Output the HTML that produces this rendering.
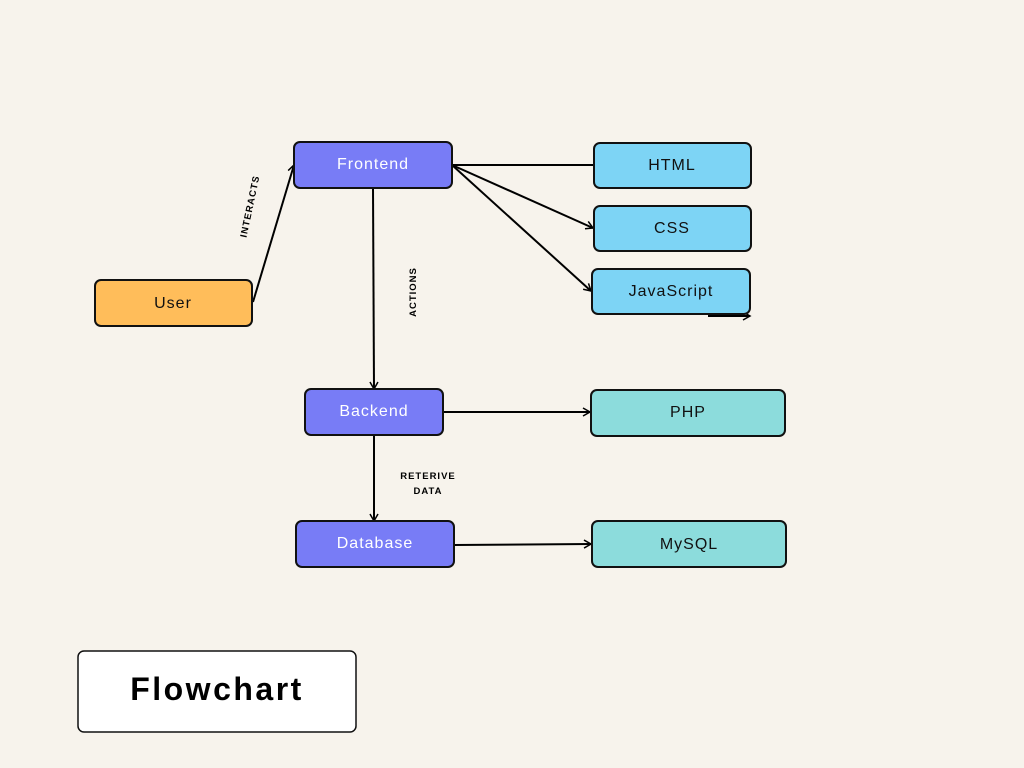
<!DOCTYPE html>
<html><head><meta charset="utf-8"><style>
html,body{margin:0;padding:0;background:#f7f3ec;}
svg{display:block}
text{font-family:"Liberation Sans","DejaVu Sans",sans-serif;}
</style></head><body>
<svg width="1024" height="768" viewBox="0 0 1024 768" xmlns="http://www.w3.org/2000/svg">
<defs>
<marker id="a" markerWidth="10" markerHeight="10" refX="8" refY="5" orient="auto" markerUnits="userSpaceOnUse">
<path d="M1,1 L8,5 L1,9" fill="none" stroke="#000" stroke-width="1.5"/>
</marker>
</defs>
<rect width="1024" height="768" fill="#f7f3ec"/>
<g stroke="#000" stroke-width="2" fill="none">
<line x1="253" y1="302" x2="294" y2="165" marker-end="url(#a)"/>
<line x1="452" y1="165" x2="594" y2="165"/>
<line x1="452" y1="165" x2="593" y2="228" marker-end="url(#a)"/>
<line x1="452" y1="165" x2="591" y2="291" marker-end="url(#a)"/>
<line x1="708" y1="316" x2="750" y2="316" marker-end="url(#a)"/>
<line x1="373" y1="188" x2="374" y2="389" marker-end="url(#a)"/>
<line x1="443" y1="412" x2="590" y2="412" marker-end="url(#a)"/>
<line x1="374" y1="435" x2="374" y2="521" marker-end="url(#a)"/>
<line x1="454" y1="545" x2="591" y2="544" marker-end="url(#a)"/>
</g>
<g stroke="#111" stroke-width="2">
<rect x="294" y="142" width="158" height="46" rx="6" fill="#787cf6"/>
<rect x="594" y="143" width="157" height="45" rx="6" fill="#7dd4f5"/>
<rect x="594" y="206" width="157" height="45" rx="6" fill="#7dd4f5"/>
<rect x="592" y="269" width="158" height="45" rx="6" fill="#7dd4f5"/>
<rect x="95" y="280" width="157" height="46" rx="6" fill="#ffbd5a"/>
<rect x="305" y="389" width="138" height="46" rx="6" fill="#787cf6"/>
<rect x="591" y="390" width="194" height="46" rx="6" fill="#8cdcdc"/>
<rect x="296" y="521" width="158" height="46" rx="6" fill="#787cf6"/>
<rect x="592" y="521" width="194" height="46" rx="6" fill="#8cdcdc"/>
<rect x="78" y="651" width="278" height="81" rx="6" fill="#fff" stroke-width="1.5"/>
</g>
<g font-size="16" text-anchor="middle" letter-spacing="1">
<text x="373" y="169" fill="#fff">Frontend</text>
<text x="672" y="170" fill="#111">HTML</text>
<text x="672" y="233" fill="#111">CSS</text>
<text x="671" y="296" fill="#111">JavaScript</text>
<text x="173" y="308" fill="#111">User</text>
<text x="374" y="416" fill="#fff">Backend</text>
<text x="688" y="417" fill="#111">PHP</text>
<text x="375" y="548" fill="#fff">Database</text>
<text x="689" y="549" fill="#111">MySQL</text>
</g>
<text x="217" y="700" font-size="32" font-weight="bold" text-anchor="middle" letter-spacing="2.5" fill="#000">Flowchart</text>
<g font-size="9.5" font-weight="bold" text-anchor="middle" fill="#000" letter-spacing="1">
<text transform="translate(253,207) rotate(-78)">INTERACTS</text>
<text transform="translate(416,292) rotate(-90)">ACTIONS</text>
<text x="428" y="479">RETERIVE</text>
<text x="428" y="494">DATA</text>
</g>
</svg>
</body></html>
